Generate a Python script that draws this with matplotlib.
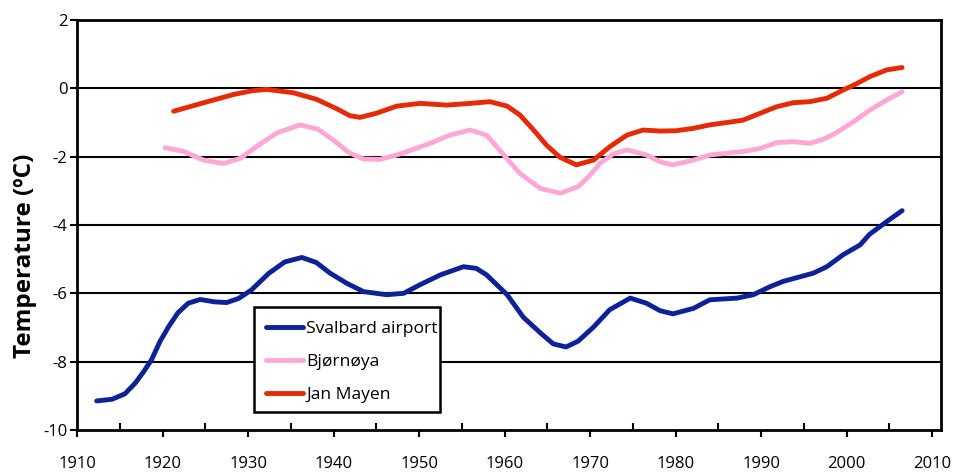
import matplotlib
matplotlib.use("Agg")
import matplotlib.pyplot as plt
from matplotlib.patches import Rectangle
from matplotlib.ticker import MultipleLocator

# Svalbard airport (blue)
svalbard_years = [1912.3, 1914.1, 1915.6, 1916.8, 1917.8, 1918.7, 1919.7, 1920.7, 1921.8, 1923,
                  1924.4, 1926.1, 1927.5, 1928.9, 1930.4, 1932.4, 1934.3, 1936.3, 1938, 1939.6,
                  1941.5, 1943.5, 1946.2, 1948.2, 1950.1, 1952.5, 1955.2, 1956.7, 1957.9, 1960.3,
                  1962.2, 1964.2, 1965.7, 1967.2, 1968.6, 1970.4, 1972.3, 1974.7, 1976.6, 1978.2,
                  1979.7, 1982.1, 1984, 1987.2, 1989.1, 1991, 1992.6, 1996.1, 1997.7, 1999.6,
                  2001.6, 2002.7, 2004.7, 2006.5]
svalbard_temp = [-9.15, -9.1, -8.94, -8.63, -8.29, -7.95, -7.41, -6.98, -6.57, -6.29,
                 -6.18, -6.25, -6.27, -6.15, -5.9, -5.42, -5.08, -4.95, -5.1, -5.41,
                 -5.7, -5.95, -6.04, -6.0, -5.75, -5.46, -5.22, -5.27, -5.46, -6.04,
                 -6.7, -7.16, -7.48, -7.57, -7.4, -6.99, -6.48, -6.14, -6.29, -6.51,
                 -6.6, -6.44, -6.19, -6.14, -6.04, -5.81, -5.65, -5.41, -5.22, -4.87,
                 -4.58, -4.27, -3.9, -3.58]

# Bjørnøya (pink)
bjornoya_years = [1920.3, 1922.4, 1924.8, 1927.1, 1929.1, 1931, 1933.4, 1936.1, 1938.2, 1940,
                  1941.8, 1943.5, 1945.4, 1947.4, 1949.3, 1951.3, 1953.6, 1956, 1957.9, 1959.1,
                  1960.6, 1961.8, 1964.2, 1966.5, 1968.6, 1970, 1971.2, 1972.7, 1974.3, 1976.6,
                  1978.2, 1979.7, 1982.1, 1984, 1987.9, 1989.9, 1991.8, 1993.8, 1995.7, 1997.2,
                  1998.8, 2000.8, 2002.7, 2004.7, 2006.5]
bjornoya_temp = [-1.74, -1.84, -2.1, -2.2, -2.05, -1.7, -1.3, -1.07, -1.2, -1.52,
                 -1.88, -2.07, -2.08, -1.95, -1.79, -1.61, -1.37, -1.22, -1.37, -1.71,
                 -2.15, -2.49, -2.93, -3.07, -2.88, -2.54, -2.19, -1.92, -1.8, -1.95,
                 -2.15, -2.24, -2.1, -1.95, -1.85, -1.76, -1.59, -1.56, -1.61, -1.5,
                 -1.3, -0.98, -0.64, -0.34, -0.1]

# Jan Mayen (red)
janmayen_years = [1921.3, 1924.4, 1928.3, 1930.5, 1932.2, 1935.3, 1938, 1940.4, 1941.9, 1943.1,
                  1945, 1947.4, 1950.1, 1953.2, 1956, 1958.3, 1960.3, 1961.8, 1963.4, 1964.9,
                  1966.5, 1968.4, 1970.4, 1972.3, 1974.3, 1976.2, 1978.2, 1980.1, 1982.1, 1984,
                  1986, 1987.9, 1989.9, 1991.8, 1993.8, 1995.7, 1997.7, 1999.6, 2001.2, 2002.7,
                  2004.7, 2006.5]
janmayen_temp = [-0.67, -0.45, -0.18, -0.07, -0.03, -0.13, -0.32, -0.6, -0.8, -0.85,
                 -0.73, -0.52, -0.44, -0.49, -0.44, -0.39, -0.52, -0.78, -1.22, -1.66,
                 -2.02, -2.24, -2.1, -1.71, -1.37, -1.22, -1.25, -1.24, -1.17, -1.07,
                 -1.0, -0.93, -0.73, -0.54, -0.42, -0.39, -0.29, -0.05, 0.14, 0.34,
                 0.54, 0.61]

BLUE = "#0d2199"
PINK = "#ffa8d6"
RED = "#e62a08"

plt.rcParams["font.family"] = ["Open Sans", "DejaVu Sans"]
plt.rcParams["axes.unicode_minus"] = False

fig = plt.figure(figsize=(9.57, 4.72), dpi=100)
ax = fig.add_axes([0.0805, 0.089, 0.9028, 0.8686])

ax.set_xlim(1910, 2011.05)
ax.set_ylim(-10, 2)

for g in [-8, -6, -4, -2, 0]:
    ax.axhline(g, color="black", linewidth=1.5, zorder=1)

ax.plot(svalbard_years, svalbard_temp, color=BLUE, linewidth=3.5,
        solid_capstyle="round", solid_joinstyle="round", label="Svalbard airport", zorder=3)
ax.plot(bjornoya_years, bjornoya_temp, color=PINK, linewidth=3.5,
        solid_capstyle="round", solid_joinstyle="round", label="Bjørnøya", zorder=3)
ax.plot(janmayen_years, janmayen_temp, color=RED, linewidth=3.5,
        solid_capstyle="round", solid_joinstyle="round", label="Jan Mayen", zorder=3)

ax.xaxis.set_major_locator(MultipleLocator(10))
ax.xaxis.set_minor_locator(MultipleLocator(5))
ax.yaxis.set_major_locator(MultipleLocator(2))
ax.tick_params(axis="x", which="major", direction="out", length=5, width=1.5,
               labelsize=12, pad=14)
ax.tick_params(axis="x", which="minor", direction="in", length=5, width=1.5)
ax.tick_params(axis="y", direction="out", length=5, width=1.5, labelsize=12, pad=2)

for spine in ax.spines.values():
    spine.set_linewidth(2)
    spine.set_color("black")

ax.set_ylabel("Temperature (ºC)", fontsize=17.5, fontweight="bold")
ax.yaxis.set_label_coords(-0.046, 0.424)

# legend box drawn separately so the padding can match the original
W, H = 957, 472
box = Rectangle((254 / W, 1 - 412 / H), 186 / W, 105 / H, transform=fig.transFigure,
                facecolor="white", edgecolor="black", linewidth=1.8, zorder=4)
ax.add_patch(box)

leg = ax.legend(loc="upper left", bbox_to_anchor=(266 / W, 1 - 321 / H),
                bbox_transform=fig.transFigure, frameon=False,
                fontsize=12.6, handlelength=2.1, handletextpad=0.2,
                borderpad=0, labelspacing=0.95, borderaxespad=0)
leg.set_zorder(5)

fig.savefig("out.png", dpi=100, facecolor="white")
